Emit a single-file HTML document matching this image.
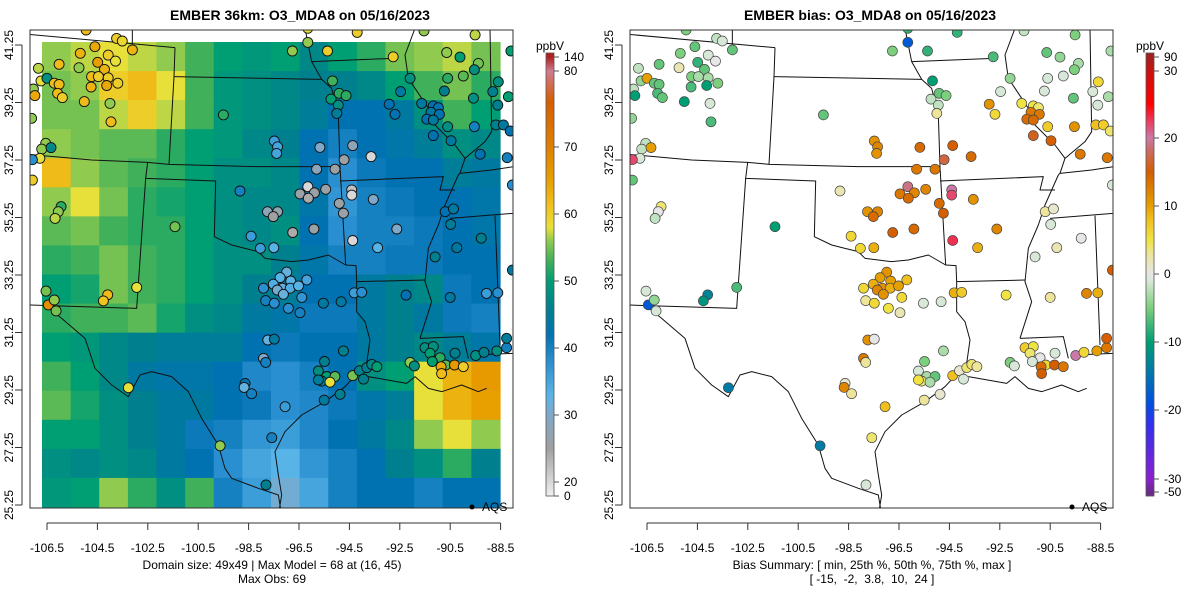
<!DOCTYPE html>
<html><head><meta charset="utf-8"><title>EMBER O3_MDA8</title>
<style>
html,body{margin:0;padding:0;background:#fff;}
svg{display:block;font-family:"Liberation Sans",Arial,sans-serif;}
</style></head>
<body>
<svg id="chart" width="1200" height="600" viewBox="0 0 1200 600" xmlns="http://www.w3.org/2000/svg">
<defs>
<clipPath id="clipL"><rect x="30" y="30" width="483" height="478"/></clipPath>
<clipPath id="clipR"><rect x="630" y="30" width="483" height="478"/></clipPath>
</defs>
<rect x="0" y="0" width="1200" height="600" fill="#fff"/>
<text x="300" y="20" text-anchor="middle" font-size="14" font-weight="bold">EMBER 36km: O3_MDA8 on 05/16/2023</text>
<text x="870" y="20" text-anchor="middle" font-size="14" font-weight="bold">EMBER bias: O3_MDA8 on 05/16/2023</text>
<g id="heat" clip-path="url(#clipL)"></g>
<g id="bordersL" clip-path="url(#clipL)"></g>
<g id="bordersR" clip-path="url(#clipR)"></g>
<g id="ptsL" clip-path="url(#clipL)"></g>
<g id="ptsR" clip-path="url(#clipR)"></g>
<rect x="30" y="30" width="483" height="478" fill="none" stroke="#333" stroke-width="1"/>
<rect x="630" y="30" width="483" height="478" fill="none" stroke="#333" stroke-width="1"/>
<g id="axes"></g>
<g id="cbars"></g>
<circle cx="472" cy="507" r="2.5" fill="#000"/>
<text x="482" y="511" font-size="12">AQS</text>
<circle cx="1072" cy="507" r="2.5" fill="#000"/>
<text x="1082" y="511" font-size="12">AQS</text>
<text x="272" y="569" text-anchor="middle" font-size="12">Domain size: 49x49 | Max Model = 68 at (16, 45)</text>
<text x="272" y="583" text-anchor="middle" font-size="12">Max Obs: 69</text>
<text x="872" y="569" text-anchor="middle" font-size="12">Bias Summary: [ min, 25th %, 50th %, 75th %, max ]</text>
<text x="872" y="583" text-anchor="middle" font-size="12" xml:space="preserve">[ -15,  -2,  3.8,  10,  24 ]</text>
</svg>
<script>
// ---------- data ----------
const xTickLabels = ["-106.5","-104.5","-102.5","-100.5","-98.5","-96.5","-94.5","-92.5","-90.5","-88.5"];
const xTickLons = [-106.5,-104.5,-102.5,-100.5,-98.5,-96.5,-94.5,-92.5,-90.5,-88.5];
const yTickLats = [41.25,39.25,37.25,35.25,33.25,31.25,29.25,27.25,25.25];
const yTickLabels = ["41.25","39.25","37.25","35.25","33.25","31.25","29.25","27.25","25.25"];
const modelCbTicks = [140,80,70,60,50,40,30,20,0];
const biasCbTicks = [90,30,20,10,0,-10,-20,-30,-50];
// model grid (rows north->south, cols west->east), ppbV
const modelGrid = [
[56,57,58,57,56,53,50,49,50,47,50,52,55,56,57,55],
[55,56,60,62,58,53,49,48,47,46,46,47,50,53,55,52],
[55,55,57,60,57,53,49,48,47,45,42,42,44,48,53,50],
[56,55,54,54,52,50,49,47,46,42,40,42,43,45,48,47],
[62,56,54,53,52,50,48,48,47,42,38,41,42,42,45,44],
[56,58,55,52,51,50,48,47,47,43,37,40,41,42,42,43],
[54,55,53,52,52,50,48,47,48,42,38,40,40,41,42,43],
[52,53,55,53,52,50,48,48,46,43,40,40,41,41,42,42],
[50,51,55,53,52,50,48,46,45,42,42,44,46,47,41,42],
[52,53,53,54,51,48,47,44,43,41,41,44,46,44,41,40],
[50,49,47,46,45,45,45,42,41,42,42,44,46,47,45,43],
[53,50,47,44,43,43,42,39,38,40,42,48,50,58,63,66],
[54,51,48,46,44,44,42,41,38,39,41,43,45,58,63,65],
[50,50,48,46,44,41,40,37,36,39,42,44,47,56,58,56],
[48,47,48,47,44,42,38,35,33,37,40,42,46,48,52,46],
[49,50,56,52,48,53,40,36,31,35,40,42,42,40,42,42]];
const stationLon = [
-104.95,-103.74,-103.51,-103.11,-104.60,-105.18,-104.07,-103.78,-106.02,-106.84,-105.23,-104.49,-104.22,-104.73,-104.46,-104.07,-106.74,-106.50,-106.21,-106.02,-107.04,-106.98,-106.08,-105.89,-104.75,-104.13,-103.69,-105.02,-104.00,-103.96,-107.11,-106.55,-106.71,-106.34,-106.78,-107.08,-107.08,-105.94,-106.05,-106.18,-106.54,-106.45,-106.21,-106.14,-104.09,-104.26,-102.94,-101.42,
-96.15,-96.15,-96.76,-95.37,-94.19,-92.76,-95.17,-94.91,-95.23,-94.63,-94.94,-95.00,-99.50,-97.48,-97.35,-97.39,-95.67,-94.37,-94.71,-93.64,-95.80,-95.07,-92.47,-92.92,-92.69,-92.09,
-91.54,-89.51,-90.64,-90.11,-89.38,-89.54,-90.60,-89.98,-88.59,-90.73,-88.81,-88.19,-89.58,-88.61,-91.63,-91.17,-90.97,-91.26,-90.93,-91.43,-91.17,-90.60,-89.54,-91.17,-90.47,-88.69,-88.39,-88.12,-89.31,-88.24,-88.09,-88.03,
-96.15,-96.46,-95.89,-96.13,-95.44,-98.84,-97.75,-97.35,-97.52,-94.90,-94.74,-94.41,-94.41,-93.55,-96.75,-95.91,-98.40,-98.03,-97.50,-94.37,-92.62,-93.38,
-90.70,-90.37,-90.48,-89.27,-90.24,-91.10,-92.25,-90.50,-89.06,-88.61,
-96.99,-97.25,-97.52,-96.83,-97.16,-96.85,-96.52,-97.36,-97.12,-96.19,-97.91,-96.39,-97.82,-97.48,-96.92,-96.46,-95.53,-94.83,-94.31,-94.01,
-97.74,-97.48,-97.91,-97.82,-98.64,-98.68,-98.38,-97.05,-97.58,-97.81,-99.63,-103.27,
-95.49,-94.74,-95.73,-95.40,-95.07,-95.60,-95.27,-95.73,-94.87,-95.50,-94.37,-94.10,-93.94,-93.81,-93.61,-93.41,-92.09,-91.92,
-91.50,-91.17,-91.30,-90.90,-91.21,-90.68,-90.31,-90.86,-90.33,-89.98,-90.84,-89.49,-89.16,-88.65,-88.26,-88.26,-88.03];
const stationLat = [
41.77,41.48,41.39,41.08,41.19,40.96,40.90,40.69,40.58,40.44,40.46,40.65,40.40,40.15,40.15,40.11,40.00,40.09,39.92,39.88,39.72,39.49,39.57,39.42,39.79,39.84,39.92,39.28,39.22,38.58,38.70,37.83,37.63,37.68,37.31,37.26,36.55,35.63,35.45,35.22,32.69,32.21,32.38,32.00,32.56,32.35,32.82,34.93,
41.83,41.34,41.04,41.04,41.69,40.84,40.00,39.57,39.37,39.49,39.16,38.87,38.82,37.91,37.71,37.48,37.69,37.75,37.26,37.37,36.93,36.93,39.63,39.19,38.84,40.09,
41.74,41.60,40.99,40.83,40.61,40.39,40.09,40.17,39.97,39.65,39.63,39.45,39.40,39.16,39.22,39.13,39.07,38.91,38.84,38.67,38.64,38.41,38.41,38.10,37.92,38.47,38.47,38.26,37.45,37.33,41.04,36.38,
36.32,36.07,36.11,35.92,36.23,36.17,35.45,35.45,35.28,35.74,35.40,36.21,36.03,35.88,34.73,34.85,34.60,34.18,34.20,34.45,34.85,34.20,
35.45,35.55,35.01,34.53,34.20,33.88,32.55,32.47,32.61,32.63,
33.35,33.16,32.93,33.04,32.79,32.79,32.87,32.73,32.58,33.08,32.79,32.47,32.36,32.27,32.09,31.94,32.27,32.32,32.63,32.65,
30.99,31.02,30.35,30.21,29.48,29.34,29.12,28.67,27.59,25.95,27.31,29.33,
30.24,30.61,29.91,29.72,29.72,29.56,29.52,29.60,29.10,28.90,29.75,29.92,29.63,30.03,30.14,30.06,30.21,30.09,
30.72,30.76,30.53,30.37,30.24,30.12,30.53,30.06,30.12,30.06,29.82,30.45,30.56,30.61,30.72,31.05,33.42];
const stationBias = [
-5,-2,-1,-6,-6,-5,-1,0,-6,-2,2,-8,-6,-5,-3,-3,-4,10,-6,-6,-2,-10,-7,-6,-7,-10,-5,-10,-1,-7,-4,-2,-2,10,-1,22,-6,4,0,-2,-1,-18,-4,-1,-13,-11,-7,-10,
-8,-18,-5,-8,-8,-7,-10,-6,-2,-5,-2,3,-6,11,12,11,14,15,17,14,13,13,-1,11,6,-4,
-2,-5,-6,-4,-3,-5,-1,-1,6,-1,-1,-3,-6,-1,5,5,4,13,13,14,14,7,11,16,15,8,7,4,13,13,-3,-1,
19,13,12,14,12,2,11,12,14,14,15,20,22,11,15,14,6,6,9,23,12,9,
3,1,-1,0,2,-1,5,3,12,9,
11,10,9,10,11,9,10,12,11,8,6,6,3,6,5,2,-1,-1,9,7,
11,0,13,3,1,12,3,8,4,-1,-14,-14,
-5,-3,-1,-3,-6,4,-3,5,1,3,8,1,-1,4,4,3,-5,-1,
7,5,4,0,-1,6,-1,14,15,13,15,20,6,10,13,15,15];
const stationObs = [
62,60,59,63,64,63,60,58,62,57,56,65,63,62,60,60,58,48,62,62,56,64,62,60,63,64,60,62,56,62,56,56,56,47,58,38,60,52,56,57,55,68,56,55,62,61,58,55,
58,56,56,60,60,60,53,52,50,52,48,45,52,36,35,35,30,28,26,20,28,26,44,42,42,48,
56,57,56,50,55,48,52,54,48,46,46,50,48,46,44,42,42,44,42,42,44,48,40,42,44,46,44,42,42,40,50,38,
20,26,26,24,26,40,28,27,25,26,26,22,20,30,24,26,36,36,33,20,30,33,
42,44,45,46,44,46,42,44,36,38,
32,33,34,33,32,34,33,31,32,35,38,37,40,38,38,40,44,44,36,38,
32,44,30,40,42,32,40,36,40,46,56,58,
46,46,48,50,54,44,58,45,46,44,55,46,46,46,47,50,56,48,
48,48,50,52,50,54,46,64,66,60,62,48,46,48,40,45,44];

// ---------- scales ----------
const NS='http://www.w3.org/2000/svg';
function xScale(lon, off){ return off + 47 + 25.2*(lon + 106.5); }
function yScale(lat){ return 45 + 28.75*(41.25 - lat); }
function mk(tag, attrs, parent){ const e=document.createElementNS(NS,tag); for(const k in attrs) e.setAttribute(k, attrs[k]); parent.appendChild(e); return e; }
function hex(h){ return [parseInt(h.substr(1,2),16),parseInt(h.substr(3,2),16),parseInt(h.substr(5,2),16)]; }
function ramp(stops, v){
  if(v<=stops[0][0]) return stops[0][1];
  for(let i=1;i<stops.length;i++){
    if(v<=stops[i][0]){
      const a=stops[i-1], b=stops[i], t=(v-a[0])/(b[0]-a[0]);
      const ca=hex(a[1]), cb=hex(b[1]);
      return 'rgb('+ca.map((c,j)=>Math.round(c+(cb[j]-c)*t)).join(',')+')';
    }
  }
  return stops[stops.length-1][1];
}
const modelStops=[[0,'#f0f0f0'],[20,'#d8d8d8'],[25,'#a0a0a0'],[30,'#80a8c8'],[33,'#58b4e6'],[38,'#2a8fd0'],[42,'#0072b2'],[46,'#00808f'],[50,'#009e73'],[53,'#40b05a'],[56,'#90cb4f'],[58,'#e8e03a'],[61,'#f0c420'],[65,'#e8a000'],[70,'#e08000'],[76,'#d55e00'],[80,'#d07a90'],[140,'#b02020']];
const biasStops=[[-50,'#6a2a8a'],[-30,'#8a20d0'],[-22,'#3030f0'],[-19,'#0050e0'],[-15,'#0072b2'],[-10,'#009e73'],[-5,'#7ccf7c'],[-1,'#d8e8d8'],[0,'#e6e6e6'],[3,'#ece59a'],[5,'#f0e442'],[8,'#f0c020'],[10,'#e69f00'],[15,'#d55e00'],[18,'#cc6a60'],[20,'#cc79a7'],[23,'#f03050'],[25,'#ff0000'],[30,'#cc1010'],[90,'#a02020']];

// ---------- heatmap ----------
const heat=document.getElementById('heat');
const HX=42, HY=42, HW=458, HH=465;
const nr=modelGrid.length, nc=modelGrid[0].length, cw=HW/nc, ch=HH/nr;
modelGrid.forEach((row,r)=>row.forEach((v,c)=>{
  const e=mk('rect',{x:(HX+c*cw).toFixed(2),y:(HY+r*ch).toFixed(2),width:(cw+0.6).toFixed(2),height:(ch+0.6).toFixed(2),fill:ramp(modelStops,v)},heat);
  
  
}));

// ---------- borders (geometry) ----------
const borderPaths=[
"M10,28 L450,68","M322,10 L322,58","M450,68 L447,155 L432,418","M447,155 L890,163",
"M10,388 L200,405 L368,412 L432,418 L700,425 L945,425",
"M368,412 L362,460 L572,468 L568,635 L620,660 L660,670 L700,680 L720,700 L760,705 L800,710 L850,705 L910,690 L962,720 L993,722 L995,770 L995,860 L1020,890 L1035,945 L1025,1015",
"M362,460 L335,850 L10,840",
"M60,840 L110,880 L180,940 L210,1030 L260,1080 L310,1115 L345,1050 L380,1040 L440,1055 L490,1100 L530,1180 L580,1260 L600,1330 L620,1360 L700,1390 L760,1410 L770,1470",
"M1025,1015 L960,1085 L900,1130 L830,1170 L780,1220 L750,1280 L760,1350 L770,1410 L760,1470",
"M840,10 L860,110 L890,163 L920,190 L940,270 L945,425 L962,720",
"M860,110 L1105,100","M945,468 L1255,455 L1245,495 L1290,495",
"M1170,10 L1140,90 L1150,160 L1210,250 L1230,300 L1290,360 L1320,400 L1305,445 L1300,450 L1260,540 L1240,600 L1210,670 L1200,770 L1220,830 L1185,940",
"M995,770 L1200,765","M1185,940 L1315,935 L1330,1000",
"M1395,10 L1400,320 L1380,350 L1320,400","M1305,445 L1400,435 L1465,425",
"M1275,580 L1465,565","M1410,572 L1425,960","M1350,990 L1465,985",
"M1030,1055 L1145,1075 L1170,1055 L1210,1090 L1250,1100 L1310,1080 L1360,1100 L1385,1090"];
function drawBorders(gid, off){
  const g=mk('g',{transform:'translate('+off+',25) scale(0.333333)'},document.getElementById(gid));
  borderPaths.forEach(d=>{
    const p=mk('path',{d:d,fill:'none',stroke:'#111','stroke-width':'3','stroke-linejoin':'round'},g);
    
    
  });
}
drawBorders('bordersL',25); drawBorders('bordersR',625);

// ---------- points ----------
const gL=document.getElementById('ptsL'), gR=document.getElementById('ptsR');
stationLon.forEach((lon,i)=>{
  const y=yScale(stationLat[i]);
  const a=mk('circle',{cx:xScale(lon,0).toFixed(1),cy:y.toFixed(1),r:5,fill:ramp(modelStops,stationObs[i]),stroke:'#111','stroke-width':'0.9'},gL);
  
  
  const b=mk('circle',{cx:xScale(lon,600).toFixed(1),cy:y.toFixed(1),r:5,fill:ramp(biasStops,stationBias[i]),stroke:'#444','stroke-width':'0.7'},gR);
  
  
});

// ---------- axes ----------
const ax=document.getElementById('axes');
[0,600].forEach(off=>{
  mk('line',{x1:xScale(xTickLons[0],off),x2:xScale(xTickLons[xTickLons.length-1],off),y1:523,y2:523,stroke:'#333'},ax);
  xTickLons.forEach((lon,i)=>{
    const x=xScale(lon,off);
    mk('line',{x1:x,x2:x,y1:523,y2:530,stroke:'#333'},ax);
    const t=mk('text',{x:x,y:552,'text-anchor':'middle','font-size':'12'},ax);
    t.textContent=xTickLabels[i];
    
    
  });
  mk('line',{x1:22+off,x2:22+off,y1:yScale(yTickLats[0]),y2:yScale(yTickLats[yTickLats.length-1]),stroke:'#333'},ax);
  yTickLats.forEach((lat,i)=>{
    const y=yScale(lat);
    mk('line',{x1:15+off,x2:22+off,y1:y,y2:y,stroke:'#333'},ax);
    const t=mk('text',{x:0,y:0,'text-anchor':'middle','font-size':'12',transform:'translate('+(13+off)+','+y+') rotate(-90)'},ax);
    t.textContent=yTickLabels[i];
    
    
  });
});

// ---------- colorbars ----------
const cb=document.getElementById('cbars');
const modelCbY=[57,71,147,214,281,348,415,482,496];
const biasCbY=[57,71,138,206,274,342,410,479,492];
function drawBar(x0, ticks, ys, stops, name){
  for(let y=53;y<496;y+=1){
    const yc=y+0.5; let v;
    if(yc<=ys[0]) v=ticks[0];
    else if(yc>=ys[ys.length-1]) v=ticks[ticks.length-1];
    else { for(let i=1;i<ys.length;i++){ if(yc<=ys[i]){ const t=(yc-ys[i-1])/(ys[i]-ys[i-1]); v=ticks[i-1]+(ticks[i]-ticks[i-1])*t; break; } } }
    mk('rect',{x:x0,y:y,width:8,height:1.2,fill:ramp(stops,v)},cb);
  }
  const fr=mk('rect',{x:x0,y:53,width:8,height:443,fill:'none',stroke:'#555','stroke-width':'0.8'},cb);
  
  
  ticks.forEach((tv,i)=>{
    mk('line',{x1:x0+8,x2:x0+13,y1:ys[i],y2:ys[i],stroke:'#555'},cb);
    const t=mk('text',{x:x0+18,y:ys[i]+4,'font-size':'12'},cb);
    t.textContent=String(tv);
    
    
  });
  const u=mk('text',{x:x0+4,y:50,'text-anchor':'middle','font-size':'12'},cb);
  u.textContent='ppbV';
  
  
}
drawBar(546, modelCbTicks, modelCbY, modelStops, 'model-colorbar');
drawBar(1146, biasCbTicks, biasCbY, biasStops, 'bias-colorbar');
</script>
</body></html>
